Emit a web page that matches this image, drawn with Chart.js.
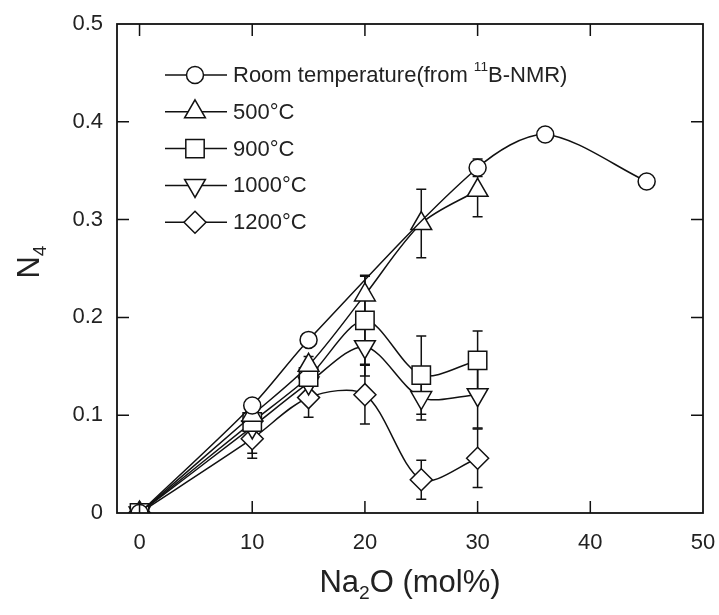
<!DOCTYPE html>
<html><head><meta charset="utf-8">
<script src="https://cdn.jsdelivr.net/npm/chart.js@4.4.1/dist/chart.umd.min.js"></script>
<style>html,body{margin:0;padding:0;background:#fff}canvas{display:block}</style>
</head><body>
<canvas id="c" width="719" height="615"></canvas>
<script>
// ---- data ----
const xTicks = [0, 10, 20, 30, 40, 50];
const yTicks = [0, 0.1, 0.2, 0.3, 0.4, 0.5];
const seriesLabels = ['Room temperature(from ^{11}B-NMR)', '500°C', '900°C', '1000°C', '1200°C'];

const xRoom = [0, 10, 15, 30, 36, 45];
const yRoom = [0, 0.110, 0.177, 0.353, 0.387, 0.339];
const eRoom = [0, 0, 0, 0.009, 0, 0];

const x500 = [0, 10, 15, 20, 25, 30];
const y500 = [0, 0.100, 0.151, 0.223, 0.296, 0.330];
const e500 = [0, 0.01, 0.009, 0.02, 0.035, 0.027];

const x900 = [0, 10, 15, 20, 25, 30];
const y900 = [0, 0.093, 0.139, 0.197, 0.141, 0.156];
const e900 = [0, 0.01, 0.01, 0.045, 0.04, 0.03];

const x1000 = [0, 10, 15, 20, 25, 30];
const y1000 = [0, 0.088, 0.133, 0.170, 0.118, 0.121];
const e1000 = [0, 0.027, 0.01, 0.03, 0.023, 0.034];

const x1200 = [0, 10, 15, 20, 25, 30];
const y1200 = [0, 0.076, 0.118, 0.121, 0.034, 0.056];
const e1200 = [0, 0.02, 0.02, 0.03, 0.02, 0.03];

// ---- styles ----
const markers = [
  {style: 'circle', r: 8.5, rot: 0},
  {style: 'triangle', r: 12, rot: 0},
  {style: 'rect', r: 13, rot: 0},
  {style: 'triangle', r: 12, rot: 180},
  {style: 'rectRot', r: 11, rot: 0}
];
const INK = '#111';
const TXT = '#222';
const FONT = '"Liberation Sans", Arial, sans-serif';

const series = [
  {x: xRoom, y: yRoom, e: eRoom},
  {x: x500, y: y500, e: e500},
  {x: x900, y: y900, e: e900},
  {x: x1000, y: y1000, e: e1000},
  {x: x1200, y: y1200, e: e1200}
];

const datasets = series.map((s, i) => ({
  label: seriesLabels[i],
  data: s.x.map((xv, j) => ({x: xv, y: s.y[j]})),
  borderColor: INK,
  borderWidth: 1.5,
  backgroundColor: '#fff',
  pointStyle: markers[i].style,
  pointRadius: markers[i].r,
  pointRotation: markers[i].rot,
  pointBorderWidth: 1.5,
  pointBorderColor: INK,
  pointBackgroundColor: '#fff',
  tension: 0.3,
  fill: false
}));

function drawMarker(ctx, m, x, y) {
  ctx.save();
  ctx.translate(x, y);
  ctx.rotate(m.rot * Math.PI / 180);
  ctx.beginPath();
  const r = m.r;
  if (m.style === 'circle') ctx.arc(0, 0, r, 0, Math.PI * 2);
  else if (m.style === 'triangle') {
    for (let k = 0; k < 3; k++) {
      const a = k * 2 * Math.PI / 3;
      const px = Math.sin(a) * r, py = -Math.cos(a) * r;
      k ? ctx.lineTo(px, py) : ctx.moveTo(px, py);
    }
    ctx.closePath();
  } else if (m.style === 'rect') {
    const s = r * Math.SQRT1_2; ctx.rect(-s, -s, 2 * s, 2 * s);
  } else if (m.style === 'rectRot') {
    ctx.moveTo(0, -r); ctx.lineTo(r, 0); ctx.lineTo(0, r); ctx.lineTo(-r, 0); ctx.closePath();
  }
  ctx.fillStyle = '#fff'; ctx.fill();
  ctx.lineWidth = 1.5; ctx.strokeStyle = INK; ctx.stroke();
  ctx.restore();
}

function drawRichText(ctx, str, x, y, size) {
  // supports ^{..} superscript and _{..} subscript
  const parts = [];
  const re = /([\^_])\{([^}]*)\}/g;
  let last = 0, m;
  while ((m = re.exec(str))) {
    if (m.index > last) parts.push({t: str.slice(last, m.index), k: ''});
    parts.push({t: m[2], k: m[1]});
    last = re.lastIndex;
  }
  if (last < str.length) parts.push({t: str.slice(last), k: ''});
  let cx = x;
  parts.forEach(p => {
    const fs = p.k ? size * 0.62 : size;
    ctx.font = fs + 'px ' + FONT;
    const dy = p.k === '^' ? -size * 0.38 : (p.k === '_' ? size * 0.22 : 0);
    ctx.fillText(p.t, cx, y + dy);
    cx += ctx.measureText(p.t).width;
  });
  return cx - x;
}
function richWidth(ctx, str, size) {
  ctx.save(); ctx.globalAlpha = 0;
  const w = drawRichText(ctx, str, 0, -1000, size);
  ctx.restore();
  return w;
}

const deco = {
  id: 'deco',
  beforeDatasetsDraw(chart) {
    const {ctx, scales: {x, y}} = chart;
    ctx.save();
    ctx.strokeStyle = INK; ctx.lineWidth = 1.5;
    series.forEach(s => s.x.forEach((xv, j) => {
      const e = s.e[j]; if (!e) return;
      const px = x.getPixelForValue(xv);
      const t = y.getPixelForValue(s.y[j] + e), b = y.getPixelForValue(s.y[j] - e);
      ctx.beginPath();
      ctx.moveTo(px, t); ctx.lineTo(px, b);
      ctx.moveTo(px - 5, t); ctx.lineTo(px + 5, t);
      ctx.moveTo(px - 5, b); ctx.lineTo(px + 5, b);
      ctx.stroke();
    }));
    ctx.restore();
  },
  afterDraw(chart) {
    const {ctx, chartArea: a, scales: {x, y}} = chart;
    ctx.save();
    // frame
    ctx.strokeStyle = INK; ctx.lineWidth = 1.8;
    ctx.strokeRect(a.left, a.top, a.right - a.left, a.bottom - a.top);
    // inward ticks
    ctx.lineWidth = 1.5;
    ctx.beginPath();
    xTicks.forEach(v => {
      const px = x.getPixelForValue(v);
      if (px <= a.left + 1 || px >= a.right - 1) return;
      ctx.moveTo(px, a.bottom); ctx.lineTo(px, a.bottom - 12);
      ctx.moveTo(px, a.top); ctx.lineTo(px, a.top + 12);
    });
    yTicks.forEach(v => {
      const py = y.getPixelForValue(v);
      if (py <= a.top + 1 || py >= a.bottom - 1) return;
      ctx.moveTo(a.left, py); ctx.lineTo(a.left + 12, py);
      ctx.moveTo(a.right, py); ctx.lineTo(a.right - 12, py);
    });
    ctx.stroke();

    // legend
    const lx0 = 165, lx1 = 227, lmx = 195, ltx = 233, ly0 = 75, ldy = 36.8;
    ctx.textBaseline = 'middle';
    seriesLabels.forEach((lab, i) => {
      const yy = ly0 + i * ldy;
      ctx.strokeStyle = INK; ctx.lineWidth = 1.5;
      ctx.beginPath(); ctx.moveTo(lx0, yy); ctx.lineTo(lx1, yy); ctx.stroke();
      drawMarker(ctx, markers[i], lmx, yy);
      ctx.fillStyle = TXT;
      drawRichText(ctx, lab, ltx, yy + 1, 22);
    });

    // axis titles
    ctx.fillStyle = TXT;
    ctx.textBaseline = 'alphabetic';
    const xt = 'Na_{2}O (mol%)';
    const w = richWidth(ctx, xt, 31);
    drawRichText(ctx, xt, (a.left + a.right) / 2 - w / 2, 592, 31);

    const yt = 'N_{4}';
    const wy = richWidth(ctx, yt, 31);
    ctx.translate(39, 262);
    ctx.rotate(-Math.PI / 2);
    drawRichText(ctx, yt, -wy / 2, 0, 31);
    ctx.restore();
  }
};

new Chart(document.getElementById('c'), {
  type: 'line',
  data: {datasets},
  options: {
    responsive: false,
    animation: false,
    layout: {padding: {top: 24, right: 16, left: 0, bottom: 0}},
    plugins: {legend: {display: false}, tooltip: {enabled: false}},
    scales: {
      x: {
        type: 'linear', min: -2, max: 50,
        afterBuildTicks: s => { s.ticks = xTicks.map(v => ({value: v})); },
        afterFit: s => { s.height = 102; s.paddingRight = 0; s.paddingLeft = 0; },
        grid: {display: false, drawTicks: false},
        border: {display: false},
        ticks: {padding: 17, color: TXT, font: {size: 22, family: FONT}, maxRotation: 0}
      },
      y: {
        type: 'linear', min: 0, max: 0.5,
        afterBuildTicks: s => { s.ticks = yTicks.map(v => ({value: v})); },
        afterFit: s => { s.width = 117; s.paddingTop = 0; s.paddingBottom = 0; },
        grid: {display: false, drawTicks: false},
        border: {display: false},
        ticks: {padding: 14, color: TXT, font: {size: 22, family: FONT}}
      }
    }
  },
  plugins: [deco]
});
</script>
</body></html>
